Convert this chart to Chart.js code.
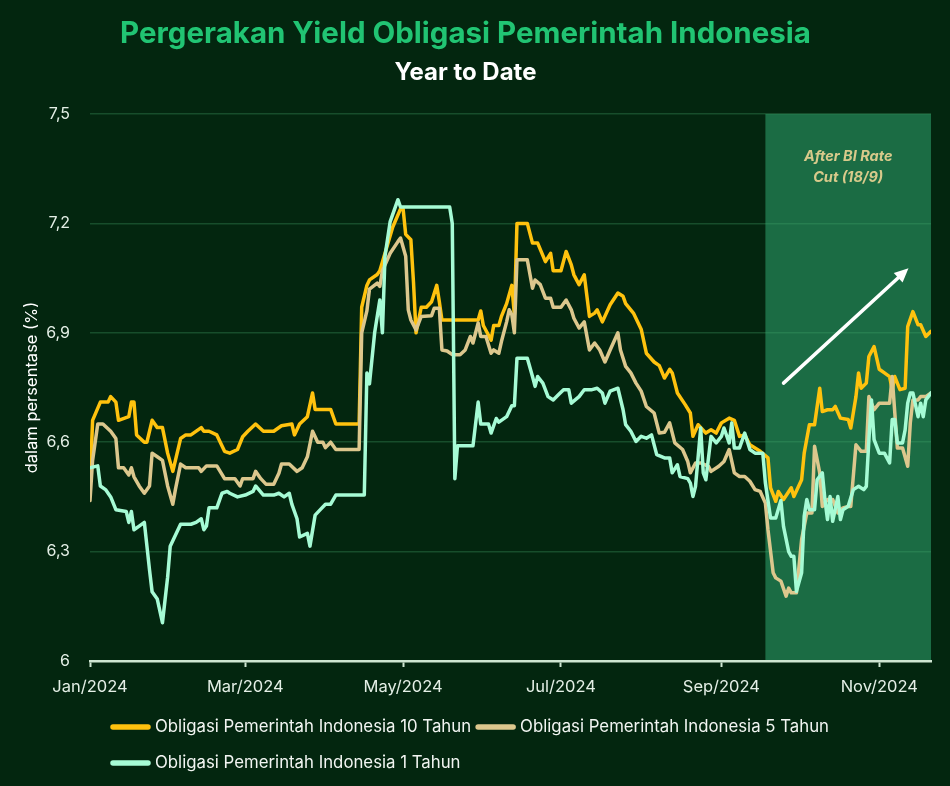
<!DOCTYPE html>
<html>
<head>
<meta charset="utf-8">
<title>Pergerakan Yield Obligasi Pemerintah Indonesia</title>
<script src="https://cdn.jsdelivr.net/npm/chart.js@4.4.1/dist/chart.umd.min.js"></script>
<style>
  html, body { margin: 0; padding: 0; background: #03260f; }
  canvas { display: block; }
</style>
</head>
<body>
<canvas id="yield-chart" width="950" height="786"></canvas>
<script>
// x = day of year 2024 (0 = 1 Jan), y = yield in %
const days10 = [0,1,4,7,8,10,11,15,16,17,
  18,21,22,24,26,28,30,32,35,37,
  39,43,44,46,49,52,54,57,59,61,
  64,67,71,74,78,79,81,84,86,87,
  91,93,95,104,105,107,108,111,112,117,
  120,121,122,124,125,126,128,130,132,134,
  135,136,150,151,152,155,156,158,159,161,
  163,164,165,169,171,173,176,178,179,182,
  184,186,187,189,191,193,195,196,198,201,
  204,206,207,210,213,215,218,220,222,224,
  225,227,230,232,233,235,238,240,242,244,
  247,249,251,253,255,259,262,263,265,266,
  268,271,272,275,276,278,280,282,283,285,
  287,288,290,293,294,296,297,298,300,301,
  303,305,307,309,310,311,313,315,316,318,
  320,321,323,325];
const yield10 = [6.48,6.66,6.71,6.71,6.725,6.71,6.66,6.67,6.71,6.71,
  6.62,6.60,6.60,6.66,6.64,6.64,6.57,6.52,6.61,6.62,
  6.62,6.64,6.63,6.63,6.62,6.575,6.57,6.58,6.615,6.63,
  6.65,6.63,6.63,6.645,6.65,6.62,6.65,6.67,6.735,6.69,
  6.69,6.69,6.65,6.65,6.97,7.03,7.045,7.06,7.07,7.19,
  7.24,7.24,7.17,7.155,7.04,6.90,6.97,6.97,6.985,7.03,
  6.985,6.935,6.935,6.96,6.92,6.88,6.92,6.92,6.945,6.98,
  7.03,6.95,7.20,7.20,7.146,7.146,7.095,7.118,7.07,7.07,
  7.123,7.086,7.059,7.032,7.059,6.945,6.954,6.963,6.93,6.977,
  7.009,7.0,6.98,6.954,6.91,6.844,6.82,6.81,6.776,6.80,
  6.79,6.735,6.703,6.68,6.616,6.648,6.625,6.634,6.625,6.653,
  6.666,6.66,6.616,6.62,6.593,6.575,6.557,6.475,6.438,6.465,
  6.443,6.475,6.451,6.497,6.57,6.648,6.648,6.748,6.684,6.689,
  6.689,6.698,6.666,6.662,6.639,6.725,6.79,6.748,6.762,6.835,
  6.862,6.80,6.79,6.78,6.744,6.78,6.744,6.748,6.917,6.958,
  6.922,6.922,6.89,6.904];

const days5 = [0,1,3,5,8,10,11,13,15,16,
  17,19,21,23,24,26,28,30,32,33,
  35,37,39,42,43,45,49,52,54,56,
  58,59,61,63,64,66,68,71,73,74,
  77,80,82,84,86,88,90,91,93,95,
  104,105,107,108,111,112,113,116,119,120,
  122,123,124,126,128,132,133,135,136,138,
  140,143,145,147,148,150,151,153,155,156,
  158,159,161,162,163,164,165,169,171,172,
  174,176,178,179,182,184,186,187,189,191,
  193,195,197,199,201,204,205,207,209,211,
  213,215,218,220,222,224,226,229,231,232,
  234,236,239,240,243,245,247,249,251,253,
  255,257,259,261,262,264,265,267,269,270,
  271,273,275,277,279,280,282,283,285,287,
  289,291,293,294,296,298,300,301,303,305,
  307,309,310,312,314,316,317,318,320,321,
  323,325];
const yield5 = [6.44,6.55,6.65,6.65,6.63,6.61,6.53,6.53,6.51,6.53,
  6.505,6.48,6.46,6.48,6.57,6.56,6.55,6.48,6.43,6.47,
  6.54,6.53,6.53,6.53,6.52,6.535,6.535,6.50,6.50,6.50,
  6.48,6.50,6.50,6.50,6.52,6.50,6.485,6.485,6.515,6.54,
  6.54,6.52,6.53,6.56,6.63,6.60,6.60,6.585,6.60,6.58,
  6.58,6.90,6.96,7.02,7.036,7.027,7.07,7.118,7.15,7.16,
  7.11,6.963,6.935,6.908,6.945,6.947,6.967,6.967,6.853,6.85,
  6.84,6.84,6.853,6.89,6.872,6.927,6.89,6.89,6.844,6.853,
  6.844,6.876,6.93,6.963,6.95,6.90,7.10,7.10,7.022,7.045,
  7.032,6.995,6.995,6.97,6.97,6.99,6.963,6.94,6.913,6.93,
  6.853,6.872,6.853,6.82,6.853,6.90,6.853,6.808,6.79,6.762,
  6.74,6.698,6.68,6.625,6.627,6.653,6.598,6.58,6.547,6.516,
  6.543,6.543,6.534,6.52,6.534,6.547,6.58,6.516,6.506,6.506,
  6.493,6.47,6.465,6.433,6.36,6.242,6.228,6.219,6.178,6.2,
  6.187,6.187,6.333,6.406,6.406,6.589,6.516,6.424,6.443,6.443,
  6.406,6.42,6.424,6.424,6.593,6.575,6.575,6.725,6.689,6.707,
  6.707,6.707,6.78,6.584,6.584,6.534,6.653,6.716,6.716,6.725,
  6.725,6.735];

const days1 = [0,3,4,6,8,10,14,15,16,17,
  19,21,23,24,26,28,30,31,32,35,
  39,41,43,44,45,46,49,51,53,54,
  57,60,63,64,67,71,73,75,77,78,
  80,81,84,85,87,89,91,93,95,106,
  107,108,110,112,113,114,116,119,120,139,
  140,141,142,147,148,150,151,154,155,157,
  158,161,163,164,165,169,171,172,173,175,
  177,179,181,183,185,186,189,191,194,196,
  198,199,201,204,206,207,209,211,213,215,
  217,219,222,224,225,227,228,231,232,233,
  234,236,237,238,240,242,244,245,247,248,
  249,251,253,255,257,260,261,263,265,267,
  268,270,271,272,273,275,276,277,278,280,
  281,283,284,285,286,287,289,290,291,293,
  295,297,299,300,301,302,303,305,307,309,
  310,311,312,314,315,316,317,318,320,321,
  322,323,325];
const yield1 = [6.53,6.535,6.48,6.47,6.45,6.415,6.41,6.38,6.41,6.36,
  6.37,6.38,6.25,6.19,6.17,6.105,6.23,6.315,6.33,6.375,
  6.375,6.38,6.39,6.36,6.37,6.42,6.42,6.46,6.465,6.46,
  6.45,6.455,6.465,6.48,6.455,6.455,6.46,6.45,6.46,6.43,
  6.39,6.34,6.35,6.315,6.40,6.415,6.43,6.43,6.455,6.455,
  6.79,6.76,6.90,6.99,6.90,7.11,7.205,7.265,7.245,7.245,
  7.20,6.50,6.59,6.59,6.59,6.71,6.65,6.65,6.625,6.665,
  6.655,6.67,6.70,6.70,6.83,6.83,6.78,6.753,6.78,6.762,
  6.725,6.716,6.73,6.744,6.744,6.707,6.725,6.744,6.744,6.748,
  6.735,6.707,6.74,6.748,6.689,6.648,6.63,6.602,6.616,6.611,
  6.62,6.566,6.557,6.557,6.516,6.538,6.506,6.50,6.488,6.451,
  6.479,6.639,6.516,6.497,6.616,6.598,6.616,6.639,6.598,6.653,
  6.584,6.584,6.625,6.58,6.57,6.57,6.488,6.392,6.392,6.44,
  6.369,6.30,6.287,6.287,6.191,6.242,6.397,6.443,6.415,6.415,
  6.497,6.516,6.443,6.388,6.451,6.383,6.451,6.388,6.415,6.424,
  6.47,6.479,6.47,6.479,6.607,6.716,6.607,6.57,6.57,6.543,
  6.662,6.662,6.598,6.598,6.634,6.707,6.735,6.735,6.67,6.707,
  6.67,6.716,6.735];

const tickDays = [0, 60, 121, 182, 244, 305];
const tickLabels = ['Jan/2024', 'Mar/2024', 'May/2024', 'Jul/2024', 'Sep/2024', 'Nov/2024'];
const yTicks = [6, 6.3, 6.6, 6.9, 7.2, 7.5];
const yTickLabels = ['6', '6,3', '6,6', '6,9', '7,2', '7,5'];

const cutDay = 261; // BI rate cut, 18 Sep
const noteLines = ['After BI Rate', 'Cut (18/9)'];
const arrowFrom = [268, 6.762];
const arrowTo = [316.3, 7.077];

const FONT = 'Inter';

function toPoints(xs, ys) {
  return xs.map((x, i) => ({ x: x, y: ys[i] }));
}

// shaded zone + arrow + note + legend drawn by hand
const extras = {
  id: 'extras',
  beforeDraw(chart) {
    const { ctx, chartArea: a, scales: { x } } = chart;
    const left = x.getPixelForValue(cutDay);
    ctx.save();
    ctx.fillStyle = '#1b6c44';
    ctx.fillRect(left, a.top, a.right - left, a.bottom - a.top);
    ctx.restore();
  },
  afterDatasetsDraw(chart) {
    const { ctx, chartArea: a, scales: { x, y } } = chart;
    const x0 = x.getPixelForValue(arrowFrom[0]), y0 = y.getPixelForValue(arrowFrom[1]);
    const x1 = x.getPixelForValue(arrowTo[0]), y1 = y.getPixelForValue(arrowTo[1]);
    const ang = Math.atan2(y1 - y0, x1 - x0);
    ctx.save();
    ctx.strokeStyle = '#ffffff';
    ctx.fillStyle = '#ffffff';
    ctx.lineWidth = 3.5;
    ctx.lineCap = 'round';
    ctx.beginPath();
    ctx.moveTo(x0, y0);
    ctx.lineTo(x1 - 8 * Math.cos(ang), y1 - 8 * Math.sin(ang));
    ctx.stroke();
    ctx.beginPath();
    ctx.moveTo(x1, y1);
    ctx.lineTo(x1 - 14 * Math.cos(ang) + 6.5 * Math.sin(ang), y1 - 14 * Math.sin(ang) - 6.5 * Math.cos(ang));
    ctx.lineTo(x1 - 14 * Math.cos(ang) - 6.5 * Math.sin(ang), y1 - 14 * Math.sin(ang) + 6.5 * Math.cos(ang));
    ctx.closePath();
    ctx.fill();

    const cx = (x.getPixelForValue(cutDay) + a.right) / 2;
    ctx.fillStyle = '#d8ca8b';
    ctx.font = 'italic 700 14.5px ' + FONT;
    ctx.textAlign = 'center';
    ctx.textBaseline = 'middle';
    noteLines.forEach((t, i) => ctx.fillText(t, cx, a.top + 43 + i * 21));
    ctx.restore();
  },
  afterDraw(chart) {
    const { ctx } = chart;
    ctx.save();
    ctx.font = '16.8px ' + FONT;
    ctx.textBaseline = 'middle';
    ctx.textAlign = 'left';
    let px = 110, py = 727;
    chart.data.datasets.forEach(ds => {
      const w = 45 + ctx.measureText(ds.label).width;
      if (px > 110 && px + w > chart.width - 20) { px = 110; py += 36; }
      ctx.strokeStyle = ds.borderColor;
      ctx.lineWidth = 5.5;
      ctx.lineCap = 'round';
      ctx.beginPath();
      ctx.moveTo(px + 3, py);
      ctx.lineTo(px + 38, py);
      ctx.stroke();
      ctx.fillStyle = '#f2f5f2';
      ctx.fillText(ds.label, px + 45, py);
      px += w + 4;
    });
    ctx.restore();
  }
};

new Chart(document.getElementById('yield-chart'), {
  type: 'line',
  data: {
    datasets: [
      {
        label: 'Obligasi Pemerintah Indonesia 10 Tahun',
        data: toPoints(days10, yield10),
        borderColor: '#ffc20e',
        order: 3
      },
      {
        label: 'Obligasi Pemerintah Indonesia 5 Tahun',
        data: toPoints(days5, yield5),
        borderColor: '#dcc78d',
        order: 2
      },
      {
        label: 'Obligasi Pemerintah Indonesia 1 Tahun',
        data: toPoints(days1, yield1),
        borderColor: '#a6fbd5',
        order: 1
      }
    ]
  },
  options: {
    responsive: false,
    animation: false,
    layout: { padding: { top: 0, right: 19, bottom: 90, left: 0 } },
    elements: {
      line: { borderWidth: 3.5, borderJoinStyle: 'round', borderCapStyle: 'round', tension: 0, fill: false },
      point: { radius: 0, hoverRadius: 0 }
    },
    plugins: {
      legend: { display: false },
      tooltip: { enabled: false },
      title: {
        display: true,
        text: 'Pergerakan Yield Obligasi Pemerintah Indonesia',
        color: '#21c473',
        font: { family: FONT, size: 29.5, weight: '700' },
        padding: { top: 16.3, bottom: 0 }
      },
      subtitle: {
        display: true,
        text: 'Year to Date',
        color: '#ffffff',
        font: { family: FONT, size: 24, weight: '700' },
        padding: { top: 6.9, bottom: 26.6 }
      }
    },
    scales: {
      x: {
        type: 'linear',
        min: 0,
        max: 325,
        afterBuildTicks: (scale) => { scale.ticks = tickDays.map(v => ({ value: v })); },
        afterFit: (scale) => { scale.height = 35; },
        ticks: {
          autoSkip: false,
          maxRotation: 0,
          padding: 10,
          color: '#e4efe6',
          font: { family: FONT, size: 16.5 },
          callback: (v) => tickLabels[tickDays.indexOf(v)]
        },
        grid: { drawOnChartArea: false, drawTicks: true, tickLength: 6, tickColor: '#cfe6d2', tickWidth: 2 },
        border: { display: true, color: '#cfe6d2', width: 2.5 }
      },
      y: {
        min: 6,
        max: 7.5,
        afterBuildTicks: (scale) => { scale.ticks = yTicks.map(v => ({ value: v })); },
        afterFit: (scale) => { scale.width = 90; },
        ticks: {
          padding: 20,
          color: '#e4efe6',
          font: { family: FONT, size: 16 },
          callback: (v) => yTickLabels[yTicks.indexOf(v)]
        },
        grid: { color: 'rgba(70,170,110,0.3)', lineWidth: 1.5, drawTicks: false },
        border: { display: false },
        title: {
          display: true,
          text: 'dalam persentase (%)',
          color: '#ffffff',
          font: { family: FONT, size: 16.5 },
          padding: { top: 22, bottom: 0 }
        }
      }
    }
  },
  plugins: [extras]
});
</script>
</body>
</html>
